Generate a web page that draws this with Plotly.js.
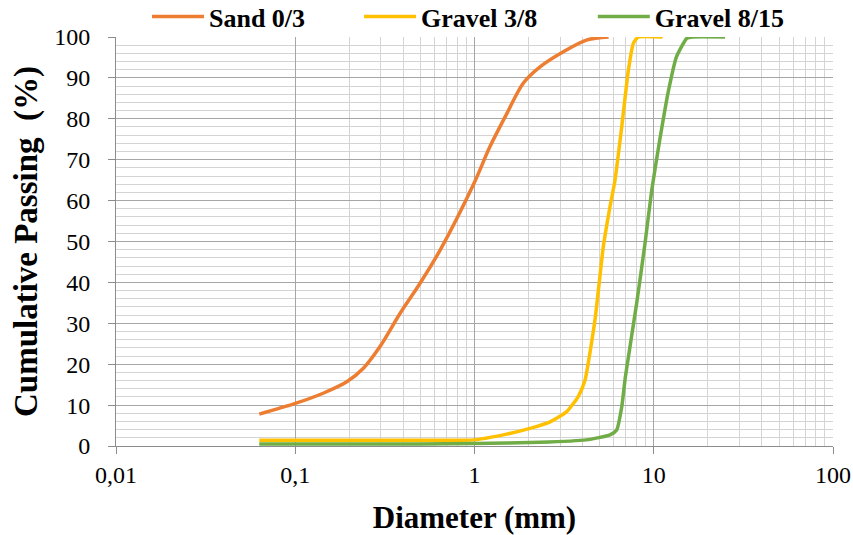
<!DOCTYPE html>
<html>
<head>
<meta charset="utf-8">
<script src="https://cdn.plot.ly/plotly-3.0.1.min.js"></script>
<style>html,body{margin:0;padding:0;background:#fff;}#chart{width:853px;height:535px;}</style>
</head>
<body>
<div id="chart"></div>
<script>
// Sand 0/3
const sandD = [0.063, 0.1, 0.143, 0.194, 0.24, 0.297, 0.384, 0.497, 0.643, 1.0, 1.22, 1.52, 1.87, 2.32, 3.13, 4.25, 5.6];
const sandP = [7.8, 10.4, 12.9, 15.7, 19.0, 24.3, 32.4, 39.8, 47.9, 64.5, 73.2, 81.4, 88.7, 92.7, 96.4, 99.3, 100];
// Gravel 3/8
const g38D = [0.063, 0.5, 1.0, 1.51, 2.04, 2.64, 3.27, 3.79, 4.13, 4.70, 5.23, 5.70, 6.08, 6.63, 7.22, 7.7, 8.2, 11.2];
const g38P = [1.4, 1.4, 1.5, 2.9, 4.3, 5.9, 8.4, 12.1, 16.0, 30.8, 48.7, 58.5, 65.0, 78.1, 91.9, 98.5, 100, 100];
// Gravel 8/15
const g815D = [0.063, 0.5, 1.0, 2.32, 4.2, 5.7, 6.21, 6.63, 6.95, 8.03, 8.94, 9.75, 10.8, 12.1, 13.4, 15.3, 16.5, 25];
const g815P = [0.5, 0.5, 0.6, 0.9, 1.5, 2.7, 3.9, 9.6, 17.0, 34.9, 49.6, 62.6, 74.8, 87.0, 95.2, 99.7, 100, 100];

const seriesNames = ['Sand 0/3', 'Gravel 3/8', 'Gravel 8/15'];
const xTickVals = [0.01, 0.1, 1, 10, 100];
const xTickText = ['0,01', '0,1', '1', '10', '100'];
const xMinorVals = [0.2,0.3,0.4,0.5,0.6,0.7,0.8,0.9, 2,3,4,5,6,7,8,9, 20,30,40,50,60,70,80,90];

const serif = 'Liberation Serif';
function tr(x, y, name, color, leg, sm) {
  return {x: x, y: y, name: name, type: 'scatter', mode: 'lines', legend: leg,
    line: {color: color, width: 3.5, shape: 'spline', smoothing: sm}, hoverinfo: 'skip'};
}
const data = [
  tr(sandD, sandP, seriesNames[0], '#ED7D31', 'legend', 0.9),
  tr(g38D, g38P, seriesNames[1], '#FFC000', 'legend2', 0.5),
  tr(g815D, g815P, seriesNames[2], '#70AD47', 'legend3', 0.5)
];
function leg(x) {
  return {orientation: 'h', x: x, xanchor: 'left', y: 1.05, yanchor: 'middle',
    font: {family: serif, size: 26, color: '#000', weight: 'bold'}, itemwidth: 52,
    bgcolor: 'rgba(0,0,0,0)'};
}
const layout = {
  width: 853, height: 535,
  margin: {l: 116, r: 20, t: 37, b: 89, autoexpand: false},
  paper_bgcolor: '#fff', plot_bgcolor: '#fff',
  font: {family: serif, color: '#000', size: 24},
  showlegend: true,
  legend: leg(0.0432), legend2: leg(0.339), legend3: leg(0.665),
  xaxis: {type: 'log', range: [-2, 2], tickmode: 'array', tickvals: xTickVals, ticktext: xTickText,
    showgrid: true, gridcolor: '#a6a6a6', gridwidth: 1,
    minor: {tickmode: 'array', tickvals: xMinorVals, showgrid: true, gridcolor: '#d4d4d4', gridwidth: 1, ticks: ''},
    showline: true, linecolor: '#8c8c8c', linewidth: 1, ticks: 'outside', ticklen: 7, tickcolor: '#8c8c8c',
    tickfont: {family: serif, size: 24, color: '#000'}, zeroline: false,
    title: {text: 'Diameter (mm)', font: {family: serif, size: 31, color: '#000', weight: 'bold'}, standoff: 19}},
  yaxis: {range: [0, 100], dtick: 10, tick0: 0,
    showgrid: true, gridcolor: '#a6a6a6', gridwidth: 1,
    minor: {dtick: 2, showgrid: true, gridcolor: '#d4d4d4', gridwidth: 1, ticks: ''},
    showline: true, linecolor: '#8c8c8c', linewidth: 1, ticks: 'outside', ticklen: 7, tickcolor: '#8c8c8c',
    tickfont: {family: serif, size: 24, color: '#000'}, zeroline: false, ticklabelstandoff: 13,
    title: {text: 'Cumulative Passing\u00a0 (%)', font: {family: serif, size: 33, color: '#000', weight: 'bold'}, standoff: 6}}
};
Plotly.newPlot('chart', data, layout, {displayModeBar: false, staticPlot: true});
</script>
</body>
</html>
